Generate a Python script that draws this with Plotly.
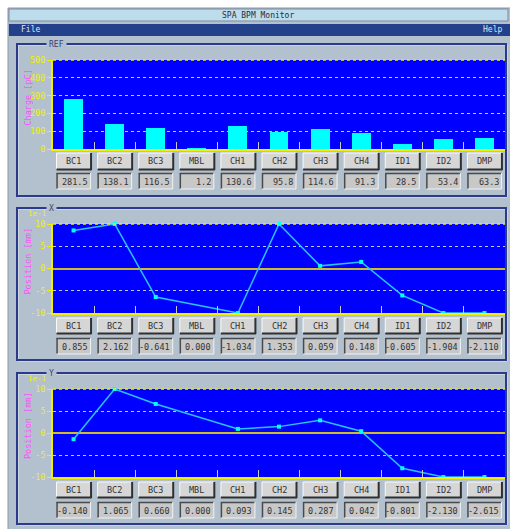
import plotly.graph_objects as go

# ---------------- data ----------------
categories = ["BC1", "BC2", "BC3", "MBL", "CH1", "CH2", "CH3", "CH4", "ID1", "ID2", "DMP"]
charge_pc = [281.5, 138.1, 116.5, 1.2, 130.6, 95.8, 114.6, 91.3, 28.5, 53.4, 63.3]
pos_x_mm = [0.855, 2.162, -0.641, 0.000, -1.034, 1.353, 0.059, 0.148, -0.605, -1.904, -2.110]
pos_y_mm = [-0.140, 1.065, 0.660, 0.000, 0.093, 0.145, 0.287, 0.042, -0.801, -2.130, -2.615]
measured = [True, True, True, False, True, True, True, True, True, True, True]
charge_ticks = [0, 100, 200, 300, 400, 500]
pos_ticks = [-10, -5, 0, 5, 10]
pos_scale = 1e-1
pos_limit = 10

# ---------------- styling ----------------
W, H = 510, 529
WIN_BG = "#b3c1cf"
PLOT_BG = "#0000ff"
YELLOW = "#f0f000"
MAGENTA = "#ff50ff"
FRAME = "#2b3a8a"
FONT = "DejaVu Sans Mono"
FS = 8.5


def px(x):
    return x / W


def py(y):
    return 1 - y / H


n = len(categories)
PLOT_X0, PLOT_X1 = 53, 505
unit = (PLOT_X1 - PLOT_X0) / n  # pixels per category

panels = [
    dict(name="REF", plot=(60, 149), btn=(153, 169), val=(173, 189), frame=(44, 196)),
    dict(name="X", plot=(224, 313), btn=(318, 333), val=(338, 354), frame=(208, 360)),
    dict(name="Y", plot=(389, 477), btn=(482, 497), val=(502, 518), frame=(373, 524)),
]


def clip_pos(vals):
    out = []
    for v, m in zip(vals, measured):
        if not m:
            out.append(None)
        else:
            s = v / pos_scale
            out.append(max(-pos_limit, min(pos_limit, s)))
    return out


def note(text, x, y, xref="paper", xanchor="center", size=FS, color="#333333", **kw):
    d = dict(xref=xref, yref="paper", x=x, y=y, text=text, showarrow=False,
             xanchor=xanchor, yanchor="middle", font=dict(family=FONT, size=size, color=color))
    d.update(kw)
    return d


fig = go.Figure()
idx = list(range(n))

fig.add_trace(go.Bar(x=idx, y=charge_pc, marker=dict(color="#00ffff", line=dict(width=0)),
                     width=0.46, xaxis="x", yaxis="y", showlegend=False))
for k, vals in ((2, pos_x_mm), (3, pos_y_mm)):
    fig.add_trace(go.Scatter(x=idx, y=clip_pos(vals), mode="lines+markers", connectgaps=True,
                             line=dict(color="#28c4ff", width=1.5),
                             marker=dict(color="#00ffff", size=4, symbol="square"),
                             xaxis=f"x{k}", yaxis=f"y{k}", showlegend=False, cliponaxis=False))

shapes = []
annotations = []

# white outside the window (top and left strips), window border
shapes.append(dict(type="rect", xref="paper", yref="paper", x0=0, x1=px(8), y0=0, y1=1,
                   fillcolor="white", line=dict(width=0), layer="below"))
shapes.append(dict(type="rect", xref="paper", yref="paper", x0=0, x1=1, y0=py(8), y1=1,
                   fillcolor="white", line=dict(width=0), layer="below"))
shapes.append(dict(type="line", xref="paper", yref="paper", x0=px(8), x1=px(8), y0=0, y1=py(8),
                   line=dict(color="#8a96a6", width=1), layer="below"))
shapes.append(dict(type="line", xref="paper", yref="paper", x0=px(8), x1=1, y0=py(8), y1=py(8),
                   line=dict(color="#8a96a6", width=1), layer="below"))
# title bar, menu bar
shapes.append(dict(type="rect", xref="paper", yref="paper", x0=px(9), x1=px(508), y0=py(21), y1=py(9),
                   fillcolor="#bddcec", line=dict(color="#7f8c9c", width=1), layer="below"))
shapes.append(dict(type="rect", xref="paper", yref="paper", x0=px(9), x1=px(511), y0=py(36), y1=py(24),
                   fillcolor="#23418b", line=dict(width=0), layer="below"))
annotations.append(note("SPA BPM Monitor", px(258), py(15), size=8, color="#2a2a3a"))
annotations.append(note("File", px(19), py(30), xanchor="left", size=8, color="#dfe6f4"))
annotations.append(note("Help", px(504), py(30), xanchor="right", size=8, color="#dfe6f4"))

for k, p in enumerate(panels, start=1):
    xa = "x" if k == 1 else f"x{k}"
    ya = "y" if k == 1 else f"y{k}"
    yt, yb = p["plot"]
    ft, fb = p["frame"]
    # group frame (etched)
    shapes.append(dict(type="rect", xref="paper", yref="paper", x0=px(18), x1=px(507), y0=py(fb + 1), y1=py(ft + 1),
                       line=dict(color="#e4ecf4", width=1), layer="below"))
    shapes.append(dict(type="rect", xref="paper", yref="paper", x0=px(17), x1=px(506), y0=py(fb), y1=py(ft),
                       line=dict(color=FRAME, width=2), layer="below"))
    lab_x = 56 if p["name"] == "REF" else 51
    annotations.append(note(p["name"], px(lab_x), py(ft), size=8, color="#3a4270",
                            bgcolor=WIN_BG, borderpad=2))
    # top dotted yellow border
    shapes.append(dict(type="line", xref=f"{xa} domain", yref=f"{ya} domain", x0=0, x1=1, y0=1, y1=1,
                       line=dict(color=YELLOW, width=1.5, dash="dot"), layer="above"))
    # axis title
    title = "Charge [pC]" if k == 1 else "Position [mm]"
    annotations.append(note(title, px(28), py((yt + yb) / 2 - 7), size=8.5, color=MAGENTA, textangle=-90))
    if k > 1:
        annotations.append(note("1e-1", px(48), py(yt - 10.5), xanchor="right", size=7.5, color=YELLOW))
    # buttons & value boxes
    bt, bb = p["btn"]
    vt, vb = p["val"]
    hw = 17 / unit
    d = 1.0 / unit
    vals = charge_pc if k == 1 else (pos_x_mm if k == 2 else pos_y_mm)
    for i, cat in enumerate(categories):
        x0, x1 = i - hw, i + hw
        # button face (raised)
        shapes.append(dict(type="rect", xref=xa, yref="paper", x0=x0, x1=x1, y0=py(bb), y1=py(bt),
                           fillcolor="#d6d6d6", line=dict(width=0), layer="above"))
        shapes.append(dict(type="line", xref=xa, yref="paper", x0=x0, x1=x1, y0=py(bt), y1=py(bt),
                           line=dict(color="#fafafa", width=1), layer="above"))
        shapes.append(dict(type="line", xref=xa, yref="paper", x0=x0, x1=x0, y0=py(bb), y1=py(bt),
                           line=dict(color="#fafafa", width=1), layer="above"))
        shapes.append(dict(type="line", xref=xa, yref="paper", x0=x0, x1=x1 + d, y0=py(bb + 0.5), y1=py(bb + 0.5),
                           line=dict(color="#303030", width=2), layer="above"))
        shapes.append(dict(type="line", xref=xa, yref="paper", x0=x1 + 0.5 * d, x1=x1 + 0.5 * d, y0=py(bb + 1), y1=py(bt),
                           line=dict(color="#303030", width=2), layer="above"))
        annotations.append(note(cat, i, py((bt + bb) / 2), xref=xa))
        # value box (sunken)
        shapes.append(dict(type="rect", xref=xa, yref="paper", x0=x0, x1=x1, y0=py(vb), y1=py(vt),
                           fillcolor="#c8c8c8", line=dict(width=0), layer="above"))
        shapes.append(dict(type="line", xref=xa, yref="paper", x0=x0, x1=x1, y0=py(vt + 0.5), y1=py(vt + 0.5),
                           line=dict(color="#4a4a4a", width=1.5), layer="above"))
        shapes.append(dict(type="line", xref=xa, yref="paper", x0=x0 + 0.5 * d, x1=x0 + 0.5 * d, y0=py(vb), y1=py(vt),
                           line=dict(color="#4a4a4a", width=1.5), layer="above"))
        shapes.append(dict(type="line", xref=xa, yref="paper", x0=x0, x1=x1, y0=py(vb), y1=py(vb),
                           line=dict(color="#f2f2f2", width=1), layer="above"))
        shapes.append(dict(type="line", xref=xa, yref="paper", x0=x1, x1=x1, y0=py(vb), y1=py(vt),
                           line=dict(color="#f2f2f2", width=1), layer="above"))
        txt = f"{vals[i]:.1f}" if k == 1 else f"{vals[i]:.3f}"
        annotations.append(note(txt, x1 - 0.8 * d, py((vt + vb) / 2 + 0.5), xref=xa, xanchor="right"))

layout = dict(
    width=W, height=H, autosize=False,
    margin=dict(l=0, r=0, t=0, b=0, pad=0),
    paper_bgcolor=WIN_BG, plot_bgcolor=PLOT_BG,
    shapes=shapes, annotations=annotations,
    bargap=0,
)
for k, p in enumerate(panels, start=1):
    xa = "xaxis" if k == 1 else f"xaxis{k}"
    ya = "yaxis" if k == 1 else f"yaxis{k}"
    yt, yb = p["plot"]
    layout[xa] = dict(domain=[px(PLOT_X0), px(PLOT_X1)], range=[-0.5, n - 0.5],
                      anchor="y" if k == 1 else f"y{k}", automargin=False,
                      tickvals=[i + 0.5 for i in range(n - 1)], showticklabels=False,
                      ticks="inside", ticklen=7, tickwidth=1, tickcolor="#c8c8d8",
                      showgrid=False, zeroline=False, showline=True, linecolor=YELLOW, linewidth=2,
                      fixedrange=True)
    if k == 1:
        yr, tv = [0, 500], charge_ticks
    else:
        yr, tv = [-pos_limit, pos_limit], pos_ticks
    layout[ya] = dict(domain=[py(yb), py(yt)], range=yr, anchor="x" if k == 1 else f"x{k}",
                      automargin=False,
                      tickvals=tv, ticktext=[str(t) for t in tv],
                      tickfont=dict(family=FONT, size=FS, color=YELLOW),
                      ticks="outside", ticklen=4, tickcolor=YELLOW, tickwidth=1,
                      showgrid=True, gridcolor="#c4c4e4", griddash="dot", gridwidth=1.3,
                      zeroline=(k > 1), zerolinecolor="#d0bc28", zerolinewidth=1.5,
                      showline=True, linecolor=YELLOW, linewidth=2, fixedrange=True)

fig.update_layout(**layout)
fig.write_html("out.html", config=dict(displayModeBar=False),
               post_script="document.body.style.margin='0';document.body.style.overflow='hidden';")
